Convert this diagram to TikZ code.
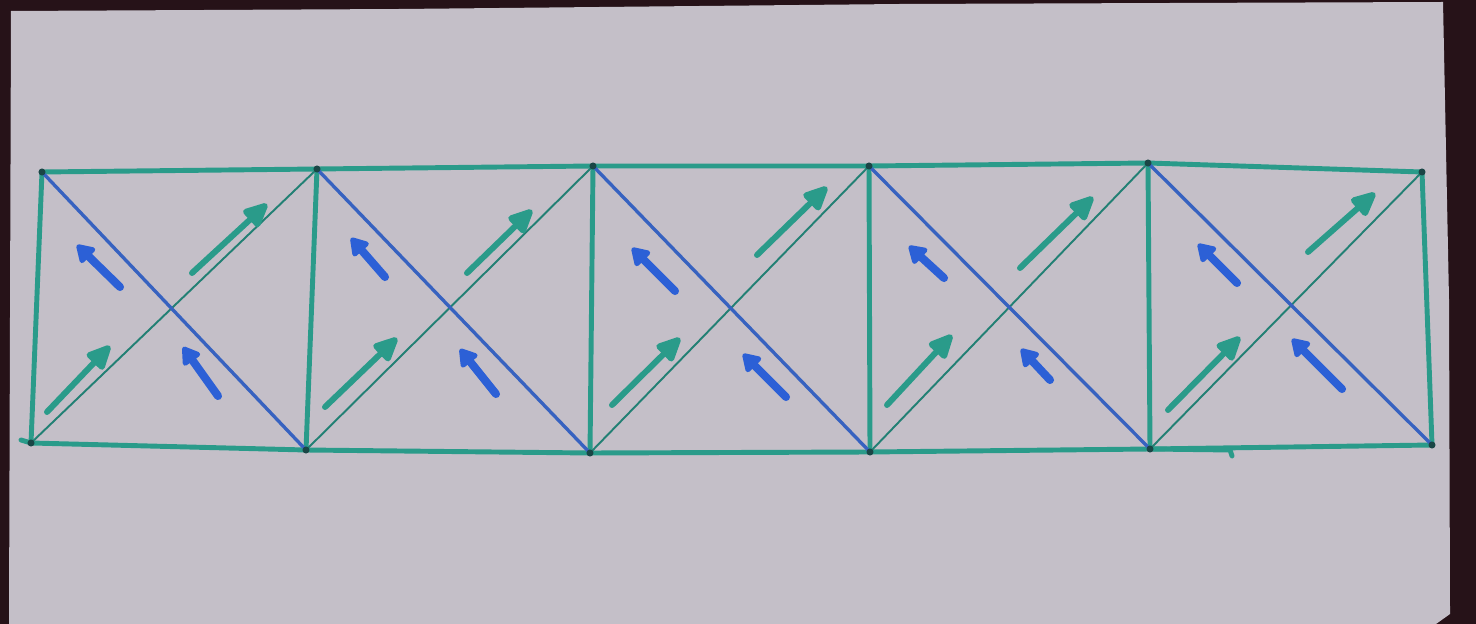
\documentclass[tikz,border=0pt]{standalone}
\usetikzlibrary{arrows.meta}
\definecolor{bgdark}{RGB}{38,18,24}
\definecolor{paper}{RGB}{196,191,200}
\definecolor{tealpen}{RGB}{42,155,138}
\definecolor{tealthin}{RGB}{34,128,116}
\definecolor{bluepen}{RGB}{55,98,192}
\definecolor{bluearrow}{RGB}{44,96,214}
\definecolor{dotc}{RGB}{26,70,70}
\begin{document}
\begin{tikzpicture}[x=0.02cm,y=-0.02cm,
  frame/.style={draw=tealpen,line width=2.8pt,line cap=round,line join=round},
  tdiag/.style={draw=tealthin,line width=1.1pt,line cap=round},
  bdiag/.style={draw=bluepen,line width=1.9pt,line cap=round},
  tarrow/.style={draw=tealpen,line width=3.4pt,line cap=round,-{Triangle[length=16pt,width=14pt,round]}},
  barrow/.style={draw=bluearrow,line width=4.6pt,line cap=round,-{Triangle[length=11pt,width=13pt,round]}},
  joint/.style={fill=dotc,circle,inner sep=0pt,minimum size=4pt}]
\useasboundingbox (0,0) rectangle (1476,624);
% background and paper
\fill[bgdark] (0,0) rectangle (1476,624);
\fill[paper] (11,11) -- (400,9) -- (900,4) -- (1443,2) -- (1449,300) -- (1450,614) -- (1436,624) -- (9,624) -- cycle;

% corner points of the truss
\coordinate (t0) at (42,172);
\coordinate (t1) at (317,169);
\coordinate (t2) at (593,166);
\coordinate (t3) at (869,166);
\coordinate (t4) at (1148,163);
\coordinate (t5) at (1422,172);
\coordinate (b0) at (31,443);
\coordinate (b1) at (306,450);
\coordinate (b2) at (590,453);
\coordinate (b3) at (870,452);
\coordinate (b4) at (1150,449);
\coordinate (b5) at (1432,445);

% frame
\draw[frame] (t0) -- (t1) -- (t2) -- (t3) -- (t4) -- (t5);
\draw[frame] (b0) -- (b1) -- (b2) -- (b3) -- (b4) -- (b5);
\foreach \i in {0,...,5} \draw[frame] (t\i) -- (b\i);
\draw[frame] (b4) -- ++(80,1) -- ++(2,6);
\draw[frame] (b0) -- ++(-10,-3);

% diagonals
\foreach \i [evaluate=\i as \j using int(\i+1)] in {0,...,4} {
  \draw[tdiag] (b\i) -- (t\j);
  \draw[bdiag] (t\i) -- (b\j);
}

% joints
\foreach \p in {t0,t1,t2,t3,t4,t5,b0,b1,b2,b3,b4,b5}
  \node[joint] (j\p) at (\p) {};

% teal arrows (up-right)
\draw[tarrow] (47,412) -- (110,346);
\draw[tarrow] (192,273) -- (267,204);
\draw[tarrow] (325,407) -- (397,338);
\draw[tarrow] (467,273) -- (532,210);
\draw[tarrow] (612,405) -- (680,338);
\draw[tarrow] (757,255) -- (827,187);
\draw[tarrow] (887,405) -- (952,335);
\draw[tarrow] (1020,268) -- (1093,197);
\draw[tarrow] (1168,410) -- (1240,337);
\draw[tarrow] (1308,252) -- (1375,193);

% blue arrows (up-left)
\draw[barrow] (120,287) -- (77,245);
\draw[barrow] (218,396) -- (183,347);
\draw[barrow] (385,277) -- (351,238);
\draw[barrow] (496,394) -- (460,349);
\draw[barrow] (675,291) -- (632,248);
\draw[barrow] (786,397) -- (743,354);
\draw[barrow] (944,278) -- (909,246);
\draw[barrow] (1050,380) -- (1021,349);
\draw[barrow] (1237,283) -- (1198,244);
\draw[barrow] (1342,389) -- (1292,339);
\end{tikzpicture}
\end{document}
